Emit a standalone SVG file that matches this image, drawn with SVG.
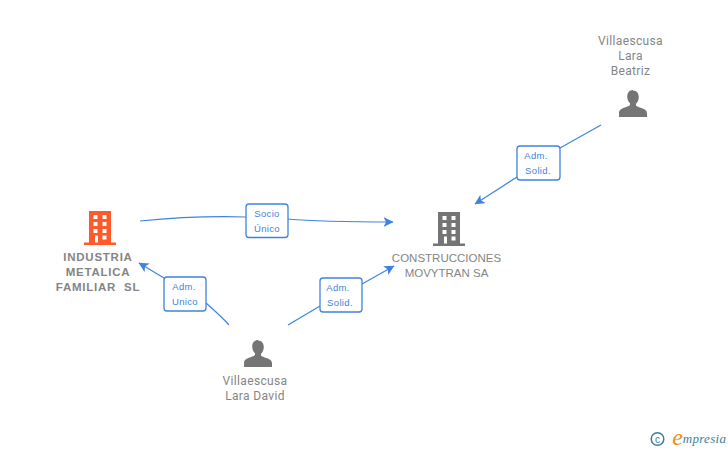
<svg xmlns="http://www.w3.org/2000/svg" width="728" height="450" viewBox="0 0 728 450">
<style>
text{font-family:Roboto,"Liberation Sans",sans-serif;text-anchor:middle}
.n{font-size:12px;fill:#858585;letter-spacing:.35px}
.b{font-size:11.5px;fill:#858585;font-family:"Liberation Sans",sans-serif;font-weight:bold;letter-spacing:.75px}
.c{font-family:"Liberation Sans",Arial,sans-serif;font-size:11.5px;fill:#858585;letter-spacing:0}
.e{fill:none;stroke:#3f83e0;stroke-width:1.2}
.l{fill:#fff;stroke:#3f83e0;stroke-width:1.3}
.t{font-size:9.5px;fill:#3f83e0;font-family:"Liberation Sans",sans-serif;letter-spacing:.35px}
.p{fill:#757575}
</style>
<defs>
<marker id="a" markerWidth="12" markerHeight="12" refX="9.500" refY="5" orient="auto" markerUnits="userSpaceOnUse"><path d="M0 0L10 5L0 10L2.500 5Z" fill="#3f83e0"/></marker>
<path id="person" d="M0-15c-3.700 0-5.800 2.900-5.800 6.500 0 2.900 1.200 5.300 2.800 6.700v1.600c0 1-3.500 2.100-6.700 3.300-3 1.100-4.300 2.500-4.300 4.900V12h28V8.500c0-2.400-1.300-3.800-4.300-4.900-3.200-1.200-6.700-2.300-6.700-3.300v-1.600c1.600-1.400 2.800-3.800 2.800-6.700 0-3.600-2.100-6.500-5.800-6.500z"/>
<path id="bld" fill-rule="evenodd" d="M-11-18h22v31.500h5v2.500h-32v-2.500h5zM-6.500-14v4h4v-4zM2.500-14v4h4v-4zM-6.500-7v4h4v-4zM2.500-7v4h4v-4zM-6.500 0v4h4v-4zM2.500 0v4h4v-4zM-5 6.500V13.500h3V6.500zM2.500 6.500v4h4v-4z"/>
</defs>
<g id="connectors">
<path class="e" d="M140 221C170 218 210 216 246 217"/>
<path class="e" d="M288 219C320 222 360 222 393 222" marker-end="url(#a)"/>
<path class="e" d="M164 278L139 263" marker-end="url(#a)"/>
<path class="e" d="M206 303C214 310 222 317 229 325"/>
<path class="e" d="M288 325L320 306"/>
<path class="e" d="M362 284L394 266" marker-end="url(#a)"/>
<path class="e" d="M601 125L560 148"/>
<path class="e" d="M517 177L475 204" marker-end="url(#a)"/>
</g>
<g id="n1"><use href="#bld" x="100" y="229" fill="#ff5a2b"/>
<text class="b" x="98" y="261">INDUSTRIA</text><text class="b" x="98" y="276">METALICA</text><text class="b" x="98" y="291" xml:space="preserve">FAMILIAR  SL</text></g>
<g id="n2"><use href="#bld" x="449" y="230" fill="#757575"/>
<text class="c" x="446.500" y="262">CONSTRUCCIONES</text><text class="c" x="446.500" y="277">MOVYTRAN SA</text></g>
<g id="n3"><use href="#person" x="633" y="105" class="p"/>
<text class="n" x="630.500" y="45">Villaescusa</text><text class="n" x="630.500" y="60">Lara</text><text class="n" x="630.500" y="75">Beatriz</text></g>
<g id="n4"><use href="#person" x="258" y="355" class="p"/>
<text class="n" x="255" y="385">Villaescusa</text><text class="n" x="255" y="399.500">Lara David</text></g>
<g id="l1"><rect class="l" x="246" y="204" width="42" height="33.500" rx="3"/><text class="t" x="267" y="217">Socio</text><text class="t" x="267" y="232">Único</text></g>
<g id="l2"><rect class="l" x="164" y="277" width="42" height="34" rx="3"/><text class="t" x="184" y="290">Adm.</text><text class="t" x="185" y="305">Unico</text></g>
<g id="l3"><rect class="l" x="320" y="278" width="42" height="34" rx="3"/><text class="t" x="338" y="291">Adm.</text><text class="t" x="340" y="306">Solid.</text></g>
<g id="l4"><rect class="l" x="517" y="146" width="43" height="34" rx="3"/><text class="t" x="536" y="159">Adm.</text><text class="t" x="538" y="174">Solid.</text></g>
<g id="logo">
<circle cx="657.500" cy="439" r="6.300" fill="none" stroke="#3d7f95" stroke-width="1.500"/>
<text x="657.500" y="442.500" style="font-size:10px;fill:#3d7f95;font-family:'Liberation Sans',sans-serif">c</text>
<text x="677.500" y="445" style="font-size:24px;fill:#f08a1d;font-family:'Liberation Serif',serif;font-style:italic">e</text>
<text x="704.500" y="443" style="font-size:13px;fill:#3d7f95;font-family:'Liberation Serif',serif;font-style:italic;letter-spacing:.3px">mpresia</text>
</g>
</svg>
